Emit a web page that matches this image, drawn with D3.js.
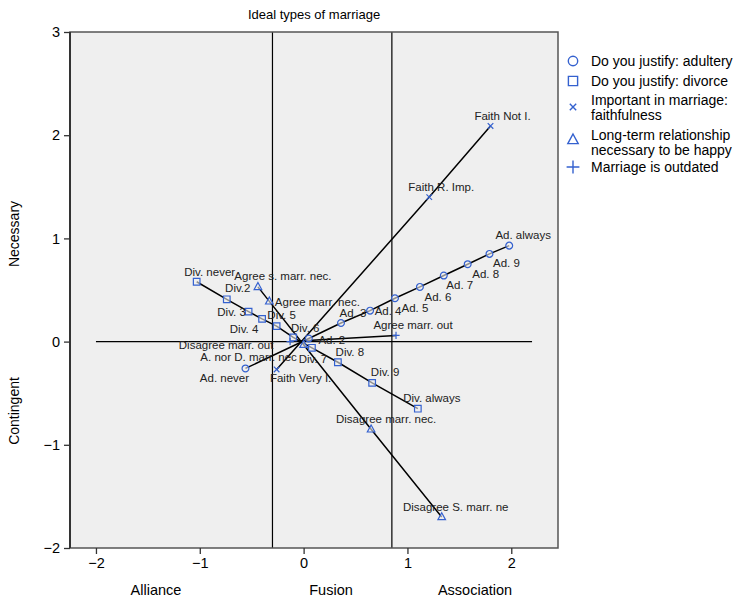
<!DOCTYPE html>
<html><head><meta charset="utf-8">
<script src="https://cdn.jsdelivr.net/npm/d3@7"></script>
<style>
body{margin:0;background:#fff}
text{font-family:"Liberation Sans",Arial,Helvetica,sans-serif}
</style>
</head><body>
<svg id="chart" width="739" height="601"></svg>
<script>
// ---------------- DATA ----------------
const title = "Ideal types of marriage";
const xTicks = [-2, -1, 0, 1, 2];
const yTicks = [-2, -1, 0, 1, 2, 3];
const xAxisLabels = ["Alliance", "Fusion", "Association"];
const yAxisLabels = ["Necessary", "Contingent"];
const refVertical = [-0.3, 0.85];
const refHorizontal = [-2, 2.2];

const adulteryLabels = ["Ad. never","Ad. 2","Ad. 3","Ad. 4","Ad. 5","Ad. 6","Ad. 7","Ad. 8","Ad. 9","Ad. always"];
const adulteryX = [-0.56, 0.05, 0.36, 0.64, 0.88, 1.12, 1.35, 1.58, 1.79, 1.98];
const adulteryY = [-0.26, 0.03, 0.18, 0.30, 0.42, 0.53, 0.64, 0.75, 0.85, 0.93];

const divorceLabels = ["Div. never","Div.2","Div. 3","Div. 4","Div. 5","Div. 6","Div. 7","Div. 8","Div. 9","Div. always"];
const divorceX = [-1.03, -0.74, -0.53, -0.40, -0.26, -0.10, 0.08, 0.33, 0.66, 1.10];
const divorceY = [0.58, 0.41, 0.29, 0.22, 0.15, 0.04, -0.06, -0.20, -0.40, -0.65];

const faithLabels = ["Faith Very I.","Faith R. Imp.","Faith Not I."];
const faithX = [-0.26, 1.21, 1.80];
const faithY = [-0.27, 1.40, 2.09];

const relationLabels = ["Agree s. marr. nec.","Agree marr. nec.","A. nor D. marr. nec","Disagree marr. nec.","Disagree S. marr. ne"];
const relationX = [-0.44, -0.33, 0.00, 0.65, 1.33];
const relationY = [0.53, 0.39, -0.03, -0.85, -1.70];

const outdatedLabels = ["Disagree marr. out","Agree marr. out"];
const outdatedX = [-0.13, 0.89];
const outdatedY = [0.00, 0.06];

const legendLabels = [
  ["Do you justify: adultery"],
  ["Do you justify: divorce"],
  ["Important in marriage:", "faithfulness"],
  ["Long-term relationship", "necessary to be happy"],
  ["Marriage is outdated"]
];
const seriesShapes = ["circle","square","times","triangle","plus"];

// ---------------- LAYOUT / STYLE ----------------
const W = 739, H = 601;
const plot = {left: 70, right: 558, top: 32, bottom: 548};
const blue = "#3461cf";
// label offsets (px) relative to marker, text centred
const labelNudge = {
  "Ad. never":[-21,10],"Ad. 2":[23,1],"Ad. 3":[12,-10],"Ad. 4":[18,0],"Ad. 5":[20,10],
  "Ad. 6":[18,10],"Ad. 7":[16,9],"Ad. 8":[18,10],"Ad. 9":[17,9],"Ad. always":[14,-11],
  "Div. never":[13,-10],"Div.2":[11,-11],"Div. 3":[-17,0],"Div. 4":[-18,10],"Div. 5":[5,-11],
  "Div. 6":[12,-9],"Div. 7":[1,11],"Div. 8":[12,-10],"Div. 9":[13,-11],"Div. always":[14,-11],
  "Faith Very I.":[24,9],"Faith R. Imp.":[12,-10],"Faith Not I.":[12,-10],
  "Agree s. marr. nec.":[25,-11],"Agree marr. nec.":[48,1],"A. nor D. marr. nec":[-55,12],
  "Disagree marr. nec.":[15,-10],"Disagree S. marr. ne":[14,-10],
  "Disagree marr. out":[-64,3],"Agree marr. out":[17,-10]
};

const series = [
  {labels: adulteryLabels, xs: adulteryX, ys: adulteryY},
  {labels: divorceLabels, xs: divorceX, ys: divorceY},
  {labels: faithLabels, xs: faithX, ys: faithY},
  {labels: relationLabels, xs: relationX, ys: relationY},
  {labels: outdatedLabels, xs: outdatedX, ys: outdatedY}
].map((s, i) => ({shape: seriesShapes[i], points: s.labels.map((l, j) => ({label: l, x: s.xs[j], y: s.ys[j]}))}));

function shapePath(type, r) {
  switch (type) {
    case "circle": return `M${-r},0A${r},${r} 0 1,0 ${r},0A${r},${r} 0 1,0 ${-r},0Z`;
    case "square": return `M${-r},${-r}H${r}V${r}H${-r}Z`;
    case "times": return `M${-r},${-r}L${r},${r}M${-r},${r}L${r},${-r}`;
    case "triangle": return `M0,${-r*1.15}L${r},${r*0.7}L${-r},${r*0.7}Z`;
    case "plus": return `M${-r},0H${r}M0,${-r}V${r}`;
  }
}
const plotSize = {circle: 3.4, square: 3.3, times: 2.8, triangle: 3.8, plus: 3.6};
const legendSize = {circle: 4.7, square: 4.6, times: 3.2, triangle: 5.2, plus: 6.4};

// ---------------- DRAW ----------------
const svg = d3.select("#chart");
const x = d3.scaleLinear().domain([-2.25, 2.45]).range([plot.left, plot.right]);
const y = d3.scaleLinear().domain([-2, 3]).range([plot.bottom, plot.top]);

svg.append("rect").attr("x", plot.left).attr("y", plot.top)
  .attr("width", plot.right - plot.left).attr("height", plot.bottom - plot.top)
  .attr("fill", "#efefef");

// reference lines
const ref = svg.append("g").attr("stroke", "#000").attr("stroke-width", 1.2);
refVertical.forEach(v => ref.append("line").attr("x1", x(v)).attr("x2", x(v)).attr("y1", plot.top).attr("y2", plot.bottom));
ref.append("line").attr("x1", x(refHorizontal[0])).attr("x2", x(refHorizontal[1])).attr("y1", y(0)).attr("y2", y(0));

// series lines
const line = d3.line().x(d => x(d.x)).y(d => y(d.y));
series.forEach(s => {
  svg.append("path").datum(s.points).attr("d", line)
    .attr("fill", "none").attr("stroke", "#000").attr("stroke-width", 1.5);
});

// markers
series.forEach(s => {
  svg.append("g").selectAll("path").data(s.points).join("path")
    .attr("transform", d => `translate(${x(d.x)},${y(d.y)})`)
    .attr("d", shapePath(s.shape, plotSize[s.shape]))
    .attr("fill", (s.shape === "times" || s.shape === "plus") ? "none" : "#efefef")
    .attr("fill-opacity", 0.6)
    .attr("stroke", blue).attr("stroke-width", 1.2);
});

// point labels
series.forEach(s => {
  svg.append("g").selectAll("text").data(s.points).join("text")
    .attr("x", d => x(d.x) + labelNudge[d.label][0])
    .attr("y", d => y(d.y) + labelNudge[d.label][1])
    .attr("text-anchor", "middle").attr("dominant-baseline", "central")
    .attr("font-size", "11.5px").attr("fill", "#222")
    .text(d => d.label);
});

// frame
svg.append("rect").attr("x", plot.left).attr("y", plot.top)
  .attr("width", plot.right - plot.left).attr("height", plot.bottom - plot.top)
  .attr("fill", "none").attr("stroke", "#555").attr("stroke-width", 1.5);
svg.append("line").attr("x1", plot.left).attr("x2", plot.left).attr("y1", plot.top).attr("y2", plot.bottom)
  .attr("stroke", "#333").attr("stroke-width", 2);

// axes
const fmt = d3.format("d");
const ax = svg.append("g").attr("transform", `translate(0,${plot.bottom})`)
  .call(d3.axisBottom(x).tickValues(xTicks).tickFormat(fmt).tickSize(6).tickPadding(4));
const ay = svg.append("g").attr("transform", `translate(${plot.left},0)`)
  .call(d3.axisLeft(y).tickValues(yTicks).tickFormat(fmt).tickSize(6).tickPadding(4));
[ax, ay].forEach(a => {
  a.select(".domain").remove();
  a.selectAll(".tick line").attr("stroke", "#333").attr("stroke-width", 1.3);
  a.selectAll(".tick text").attr("font-size", "14.5px").attr("fill", "#000")
    .style("font-family", '"Liberation Sans",Arial,sans-serif');
});

// axis titles
const xTitlePos = [156, 331, 475];
svg.append("g").selectAll("text").data(xAxisLabels).join("text")
  .attr("x", (d, i) => xTitlePos[i]).attr("y", 590)
  .attr("text-anchor", "middle").attr("dominant-baseline", "central")
  .attr("font-size", "14.5px").attr("fill", "#000").text(d => d);
const yTitlePos = [234, 411];
svg.append("g").selectAll("text").data(yAxisLabels).join("text")
  .attr("transform", (d, i) => `translate(14,${yTitlePos[i]}) rotate(-90)`)
  .attr("text-anchor", "middle").attr("dominant-baseline", "central")
  .attr("font-size", "14px").attr("fill", "#000").text(d => d);

// title
svg.append("text").attr("x", (plot.left + plot.right) / 2).attr("y", 14)
  .attr("text-anchor", "middle").attr("dominant-baseline", "central")
  .attr("font-size", "13px").attr("fill", "#000").text(title);

// legend
const legendY = [61, 81, 107, 140, 167];
const legendTextY = [[61], [81], [100, 115], [134.5, 149.5], [167]];
const lg = svg.append("g");
legendLabels.forEach((lines, i) => {
  const shp = seriesShapes[i];
  lg.append("path").attr("transform", `translate(573,${legendY[i]})`)
    .attr("d", shapePath(shp, legendSize[shp]))
    .attr("fill", "none").attr("stroke", blue).attr("stroke-width", 1.4);
  lines.forEach((t, k) => {
    lg.append("text").attr("x", 591).attr("y", legendTextY[i][k])
      .attr("dominant-baseline", "central").attr("font-size", "14px").attr("fill", "#000").text(t);
  });
});
</script>
</body></html>
